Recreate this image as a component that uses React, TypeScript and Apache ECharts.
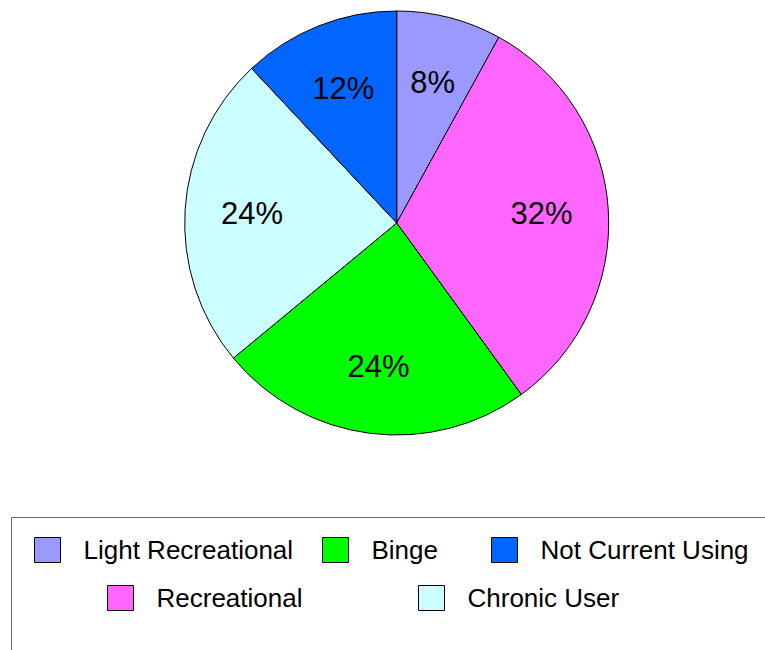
import React, { useEffect, useRef } from "react";
import * as echarts from "echarts";

const categories = ["Light Recreational", "Recreational", "Binge", "Chronic User", "Not Current Using"];
const values = [8, 32, 24, 24, 12];
const colors = ["#9999FF", "#FF66FF", "#00FF00", "#CCFFFF", "#0066FF"];

const FONT = "'Liberation Sans', Arial, Helvetica, sans-serif";

export default function App() {
  const ref = useRef<HTMLDivElement>(null);
  useEffect(() => {
    if (!ref.current) return;
    const chart = echarts.init(ref.current, null, { renderer: "svg" });
    const data = categories.map((name, i) => ({
      name,
      value: values[i],
      itemStyle: { color: colors[i] },
    }));
    const legendPos: Record<string, [number, number]> = {
      "Light Recreational": [34, 537],
      "Binge": [322, 537],
      "Not Current Using": [491, 537],
      "Recreational": [107, 585],
      "Chronic User": [418, 585],
    };
    const legends = Object.keys(legendPos).map((name) => ({
      data: [name],
      left: legendPos[name][0],
      top: legendPos[name][1],
      padding: 0,
      itemWidth: 26,
      itemHeight: 25,
      icon: "rect",
      itemStyle: { borderColor: "#000", borderWidth: 1 },
      textStyle: { fontSize: 26, fontFamily: FONT, color: "#000", padding: [0, 0, 0, 18] },
      selectedMode: false,
    }));
    chart.setOption({
      animation: false,
      backgroundColor: "#ffffff",
      legend: legends,
      graphic: [
        {
          type: "rect",
          shape: { x: 11.5, y: 517.5, width: 800, height: 200 },
          style: { fill: "none", stroke: "#6e6e6e", lineWidth: 1 },
          silent: true,
        },
      ],
      series: [
        {
          type: "pie",
          center: [396.7, 223],
          radius: [0, 212],
          startAngle: 90,
          clockwise: true,
          data,
          label: { show: false },
          labelLine: { show: false },
          itemStyle: { borderColor: "#000", borderWidth: 1 },
          emphasis: { disabled: true },
          silent: true,
        },
        {
          type: "pie",
          center: [396.7, 223],
          radius: [0, 284],
          startAngle: 90,
          clockwise: true,
          data: categories.map((name, i) => ({ name, value: values[i] })),
          itemStyle: { color: "rgba(0,0,0,0)", borderWidth: 0 },
          label: {
            show: true,
            position: "inside",
            formatter: "{c}%",
            fontSize: 31,
            fontFamily: FONT,
            color: "#000",
          },
          labelLine: { show: false },
          emphasis: { disabled: true },
          silent: true,
          z: 3,
        },
      ],
    });
    return () => chart.dispose();
  }, []);
  return (
    <div
      ref={ref}
      style={{ position: "fixed", left: 0, top: 0, width: 765, height: 650 }}
    />
  );
}
